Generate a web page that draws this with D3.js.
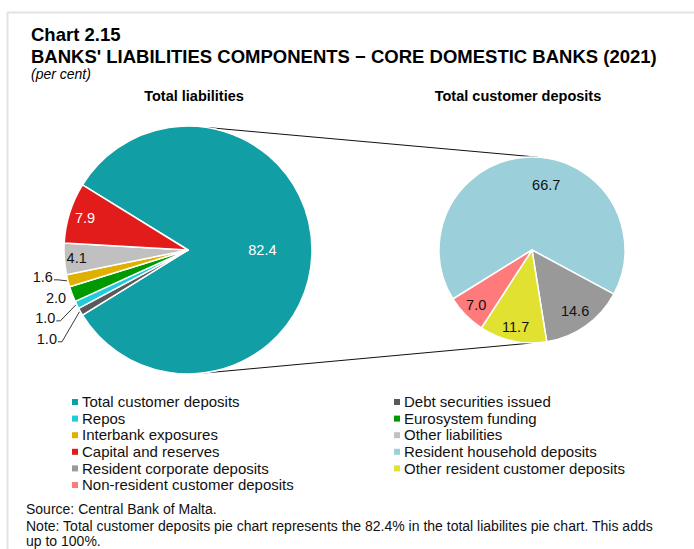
<!DOCTYPE html>
<html><head><meta charset="utf-8">
<script src="https://cdn.jsdelivr.net/npm/d3@7"></script>
<style>
body{margin:0;background:#fff;}
svg{display:block;font-family:Arial,"Liberation Sans",sans-serif;}
</style>
</head><body><svg id="c" width="694" height="549"></svg>
<script>
// ---------- DATA ----------
const liabCategories = ["Total customer deposits","Debt securities issued","Repos","Eurosystem funding","Interbank exposures","Other liabilities","Capital and reserves"];
const liabValues = [82.4, 1.0, 1.0, 2.0, 1.6, 4.1, 7.9];
const depCategories = ["Resident household deposits","Resident corporate deposits","Other resident customer deposits","Non-resident customer deposits"];
const depValues = [66.7, 14.6, 11.7, 7.0];
const titleLines = ["Chart 2.15","BANKS' LIABILITIES COMPONENTS \u2212 CORE DOMESTIC BANKS (2021)"];
const unitText = "(per cent)";
const pieTitles = ["Total liabilities","Total customer deposits"];
const notes = ["Source: Central Bank of Malta.","Note: Total customer deposits pie chart represents the 82.4% in the total liabilites pie chart. This adds","up to 100%."];

// ---------- STYLE / LAYOUT ----------
const liabColors = ["#119ea5","#595959","#22cbdb","#009a00","#dfb000","#c0c0c0","#e21b1b"];
const depColors = ["#9bcfd9","#999999","#e1e132","#ff7a7a"];
const W = 694, H = 549;
const L = {cx:188, cy:250, r:124};
const R = {cx:532, cy:250, r:93};
const deg = Math.PI/180;
const leftLabelLayout = [
  {k:0.6, fill:"#fff"},
  {out:true, dx:-23.5, dy:32, leader:true},
  {out:true, dx:-21.5, dy:18, leader:true},
  {out:true, dx:-6, dy:9, leader:false},
  {out:true, dx:-15, dy:1, leader:true},
  {k:0.9, fill:"#111"},
  {k:0.87, fill:"#fff"}
];
const rightLabelLayout = [
  {k:0.72, da:14}, {k:0.8, da:0}, {k:0.85, da:0}, {k:0.84, da:0}
];
const connectors = [{la:9, ra:4},{la:174.5, ra:180}];

const svg = d3.select("#c");
svg.append("rect").attr("width",W).attr("height",H).attr("fill","#fff");
// frame
svg.append("line").attr("x1",7).attr("x2",W).attr("y1",12.5).attr("y2",12.5).attr("stroke","#e3e3e3").attr("stroke-width",2);
svg.append("line").attr("x1",7.5).attr("x2",7.5).attr("y1",12).attr("y2",H).attr("stroke","#e3e3e3").attr("stroke-width",2);

// titles
svg.append("text").attr("x",31).attr("y",41).attr("font-size",18.5).attr("font-weight","bold").attr("fill","#000").text(titleLines[0]);
svg.append("text").attr("x",31).attr("y",63).attr("font-size",18.5).attr("font-weight","bold").attr("fill","#000").text(titleLines[1]);
svg.append("text").attr("x",31).attr("y",79).attr("font-size",14).attr("font-style","italic").attr("fill","#000").text(unitText);
svg.append("text").attr("x",194).attr("y",101).attr("text-anchor","middle").attr("font-size",14.5).attr("font-weight","bold").text(pieTitles[0]);
svg.append("text").attr("x",518).attr("y",101).attr("text-anchor","middle").attr("font-size",14.5).attr("font-weight","bold").text(pieTitles[1]);

function pt(c, a, r){ return [c.cx + r*Math.sin(a), c.cy - r*Math.cos(a)]; }

// connectors
connectors.forEach(cn=>{
  const p1 = pt(L, cn.la*deg, L.r), p2 = pt(R, cn.ra*deg, R.r);
  svg.append("line").attr("x1",p1[0]).attr("y1",p1[1]).attr("x2",p2[0]).attr("y2",p2[1])
    .attr("stroke","#111").attr("stroke-width",1);
});

// left pie
const lStart = Math.PI/2 - (liabValues[0]/100)*Math.PI;
const lPie = d3.pie().sort(null).value(d=>d).startAngle(lStart).endAngle(lStart+2*Math.PI);
const lArcs = lPie(liabValues);
const lArc = d3.arc().innerRadius(0).outerRadius(L.r);
const gL = svg.append("g").attr("transform",`translate(${L.cx},${L.cy})`);
gL.selectAll("path").data(lArcs).join("path").attr("d",lArc)
  .attr("fill",(d,i)=>liabColors[i]).attr("stroke","#fff").attr("stroke-width",1.5).attr("stroke-linejoin","round");

lArcs.forEach((d,i)=>{
  const lay = leftLabelLayout[i];
  const mid = (d.startAngle+d.endAngle)/2;
  const txt = d3.format(".1f")(d.value);
  if(!lay.out){
    const p = pt(L, mid, L.r*lay.k);
    svg.append("text").attr("x",p[0]).attr("y",p[1]).attr("dy","0.35em").attr("text-anchor","middle")
      .attr("font-size",14.5).attr("fill",lay.fill).text(txt);
  } else {
    const e = pt(L, mid, L.r);
    const tx = e[0]+lay.dx, ty = e[1]+lay.dy;
    svg.append("text").attr("x",tx).attr("y",ty).attr("text-anchor","end")
      .attr("font-size",14.5).attr("fill","#111").text(txt);
    if(lay.leader){
      const pts = [[tx+1, ty-2],[tx+5, ty-2],[e[0]-1, e[1]]];
      svg.append("polyline").attr("points",pts.map(p=>p.join(",")).join(" "))
        .attr("fill","none").attr("stroke","#222").attr("stroke-width",0.9);
    }
  }
});

// right pie
const rStart = -121.8*deg;
const rPie = d3.pie().sort(null).value(d=>d).startAngle(rStart).endAngle(rStart+2*Math.PI);
const rArcs = rPie(depValues);
const rArc = d3.arc().innerRadius(0).outerRadius(R.r);
const gR = svg.append("g").attr("transform",`translate(${R.cx},${R.cy})`);
gR.selectAll("path").data(rArcs).join("path").attr("d",rArc)
  .attr("fill",(d,i)=>depColors[i]).attr("stroke","#fff").attr("stroke-width",1.5).attr("stroke-linejoin","round");
rArcs.forEach((d,i)=>{
  const lay = rightLabelLayout[i];
  const mid = (d.startAngle+d.endAngle)/2 + lay.da*deg;
  const p = pt(R, mid, R.r*lay.k);
  svg.append("text").attr("x",p[0]).attr("y",p[1]).attr("dy","0.35em").attr("text-anchor","middle")
    .attr("font-size",14.5).attr("fill","#111").text(d3.format(".1f")(d.value));
});

// legend
const legendItems = liabCategories.map((c,i)=>({name:c,color:liabColors[i]}))
  .concat(depCategories.map((c,i)=>({name:c,color:depColors[i]})));
const colX = [72, 394], rowY0 = 402, rowH = 16.6;
const lg = svg.append("g");
legendItems.forEach((it,i)=>{
  const col = i%2, row = Math.floor(i/2);
  const x = colX[col], y = rowY0 + row*rowH;
  lg.append("rect").attr("x",x).attr("y",y-3).attr("width",6).attr("height",6).attr("fill",it.color);
  lg.append("text").attr("x",x+10).attr("y",y).attr("dy","0.35em").attr("font-size",15).attr("fill","#111").text(it.name);
});

// notes
const noteY = [514, 530.5, 545.5];
notes.forEach((t,i)=>{
  svg.append("text").attr("x",26).attr("y",noteY[i]).attr("font-size",14).attr("fill","#111").text(t);
});
</script>
</body></html>
